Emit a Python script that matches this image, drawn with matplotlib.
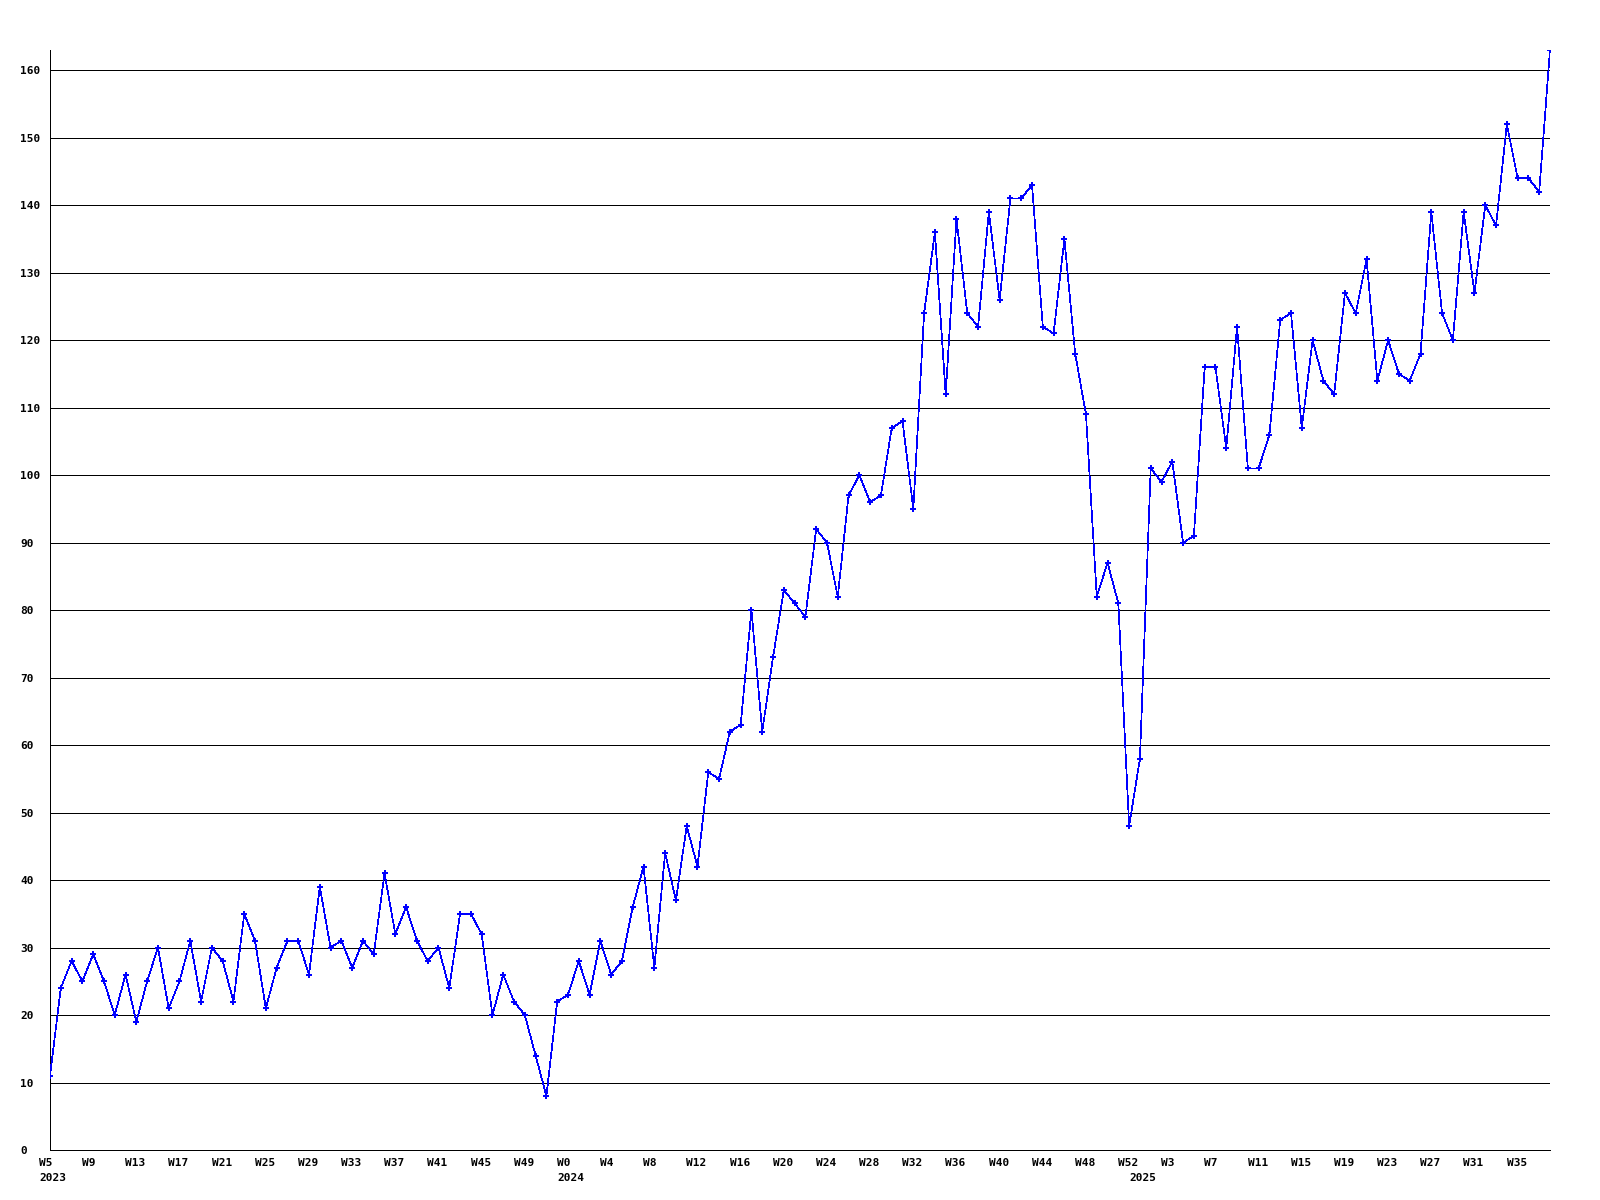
import matplotlib
matplotlib.use("Agg")
import matplotlib.pyplot as plt
import matplotlib.transforms as mtransforms

# ---- data -------------------------------------------------------------
values = [
    11, 24, 28, 25, 29, 25, 20, 26, 19, 25, 30, 21, 25, 31, 22, 30, 28, 22, 35, 31, 21, 27, 31, 31, 26,
    39, 30, 31, 27, 31, 29, 41, 32, 36, 31, 28, 30, 24, 35, 35, 32, 20, 26, 22, 20, 14, 8, 22, 23,
    28, 23, 31, 26, 28, 36, 42, 27, 44, 37, 48, 42, 56, 55, 62, 63, 80, 62,
    73, 83, 81, 79, 92, 90, 82, 97, 100, 96, 97, 107, 108, 95, 124, 136, 112, 138, 124,
    122, 139, 126, 141, 141, 143, 122, 121, 135, 118, 109, 82, 87, 81, 48, 58, 101,
    99, 102, 90, 91, 116, 116, 104, 122, 101, 101, 106, 123, 124, 107, 120, 114, 112, 127,
    124, 132, 114, 120, 115, 114, 118, 139, 124, 120, 139, 127, 140, 137, 152, 144, 144, 142, 163,
]
years = ["2023", "2024", "2025"]
first_week = [5, 0, 0]
last_week = [52, 52, 38]
y_ticks = list(range(0, 161, 10))
tick_every = 4

# build per-point labels
point_week = []
point_year = []
for yr, w0, w1 in zip(years, first_week, last_week):
    for w in range(w0, w1 + 1):
        point_week.append("W%d" % w)
        point_year.append(yr)

x = list(range(len(values)))

FONT = dict(family=['DejaVu Sans Mono'], weight='bold', size=8)

fig = plt.figure(figsize=(16, 12), dpi=100)
fig.patch.set_facecolor('white')
ax = fig.add_axes([50 / 1600, 50 / 1200, 1500 / 1600, 1100 / 1200])

ax.set_xlim(0, len(values) - 1)
ax.set_ylim(0, 163)

for yv in y_ticks[1:]:
    ax.axhline(yv, color='black', lw=0.72, antialiased=False, zorder=1)

ax.plot(x, values, color='#0000ff', lw=0.5, antialiased=False, zorder=3)
ax.plot(x, values, color='#0000ff', lw=0, marker='P', ms=4.5,
        markeredgewidth=0, zorder=4)

for s in ['top', 'right']:
    ax.spines[s].set_visible(False)
for s in ['left', 'bottom']:
    ax.spines[s].set_color('black')
    ax.spines[s].set_linewidth(0.72)
    ax.spines[s].set_antialiased(False)

ax.set_xticks([])
ax.set_yticks(y_ticks)
ax.set_yticklabels([str(v) for v in y_ticks], fontdict=FONT)
ax.tick_params(axis='y', length=0, pad=21.6)
for lab in ax.get_yticklabels():
    lab.set_horizontalalignment('left')

base = mtransforms.blended_transform_factory(ax.transData, ax.transAxes)
wk_tr = base + mtransforms.ScaledTranslation(-11 / 100, -16 / 100, fig.dpi_scale_trans)
yr_tr = base + mtransforms.ScaledTranslation(-11 / 100, -31 / 100, fig.dpi_scale_trans)

for i in range(0, len(values), tick_every):
    ax.text(i, 0, point_week[i], transform=wk_tr, ha='left', va='baseline',
            clip_on=False, **FONT)

prev = None
for i, yr in enumerate(point_year):
    if yr != prev:
        ax.text(i, 0, yr, transform=yr_tr, ha='left', va='baseline',
                clip_on=False, **FONT)
        prev = yr

fig.savefig('out.png', dpi=100, facecolor='white')
